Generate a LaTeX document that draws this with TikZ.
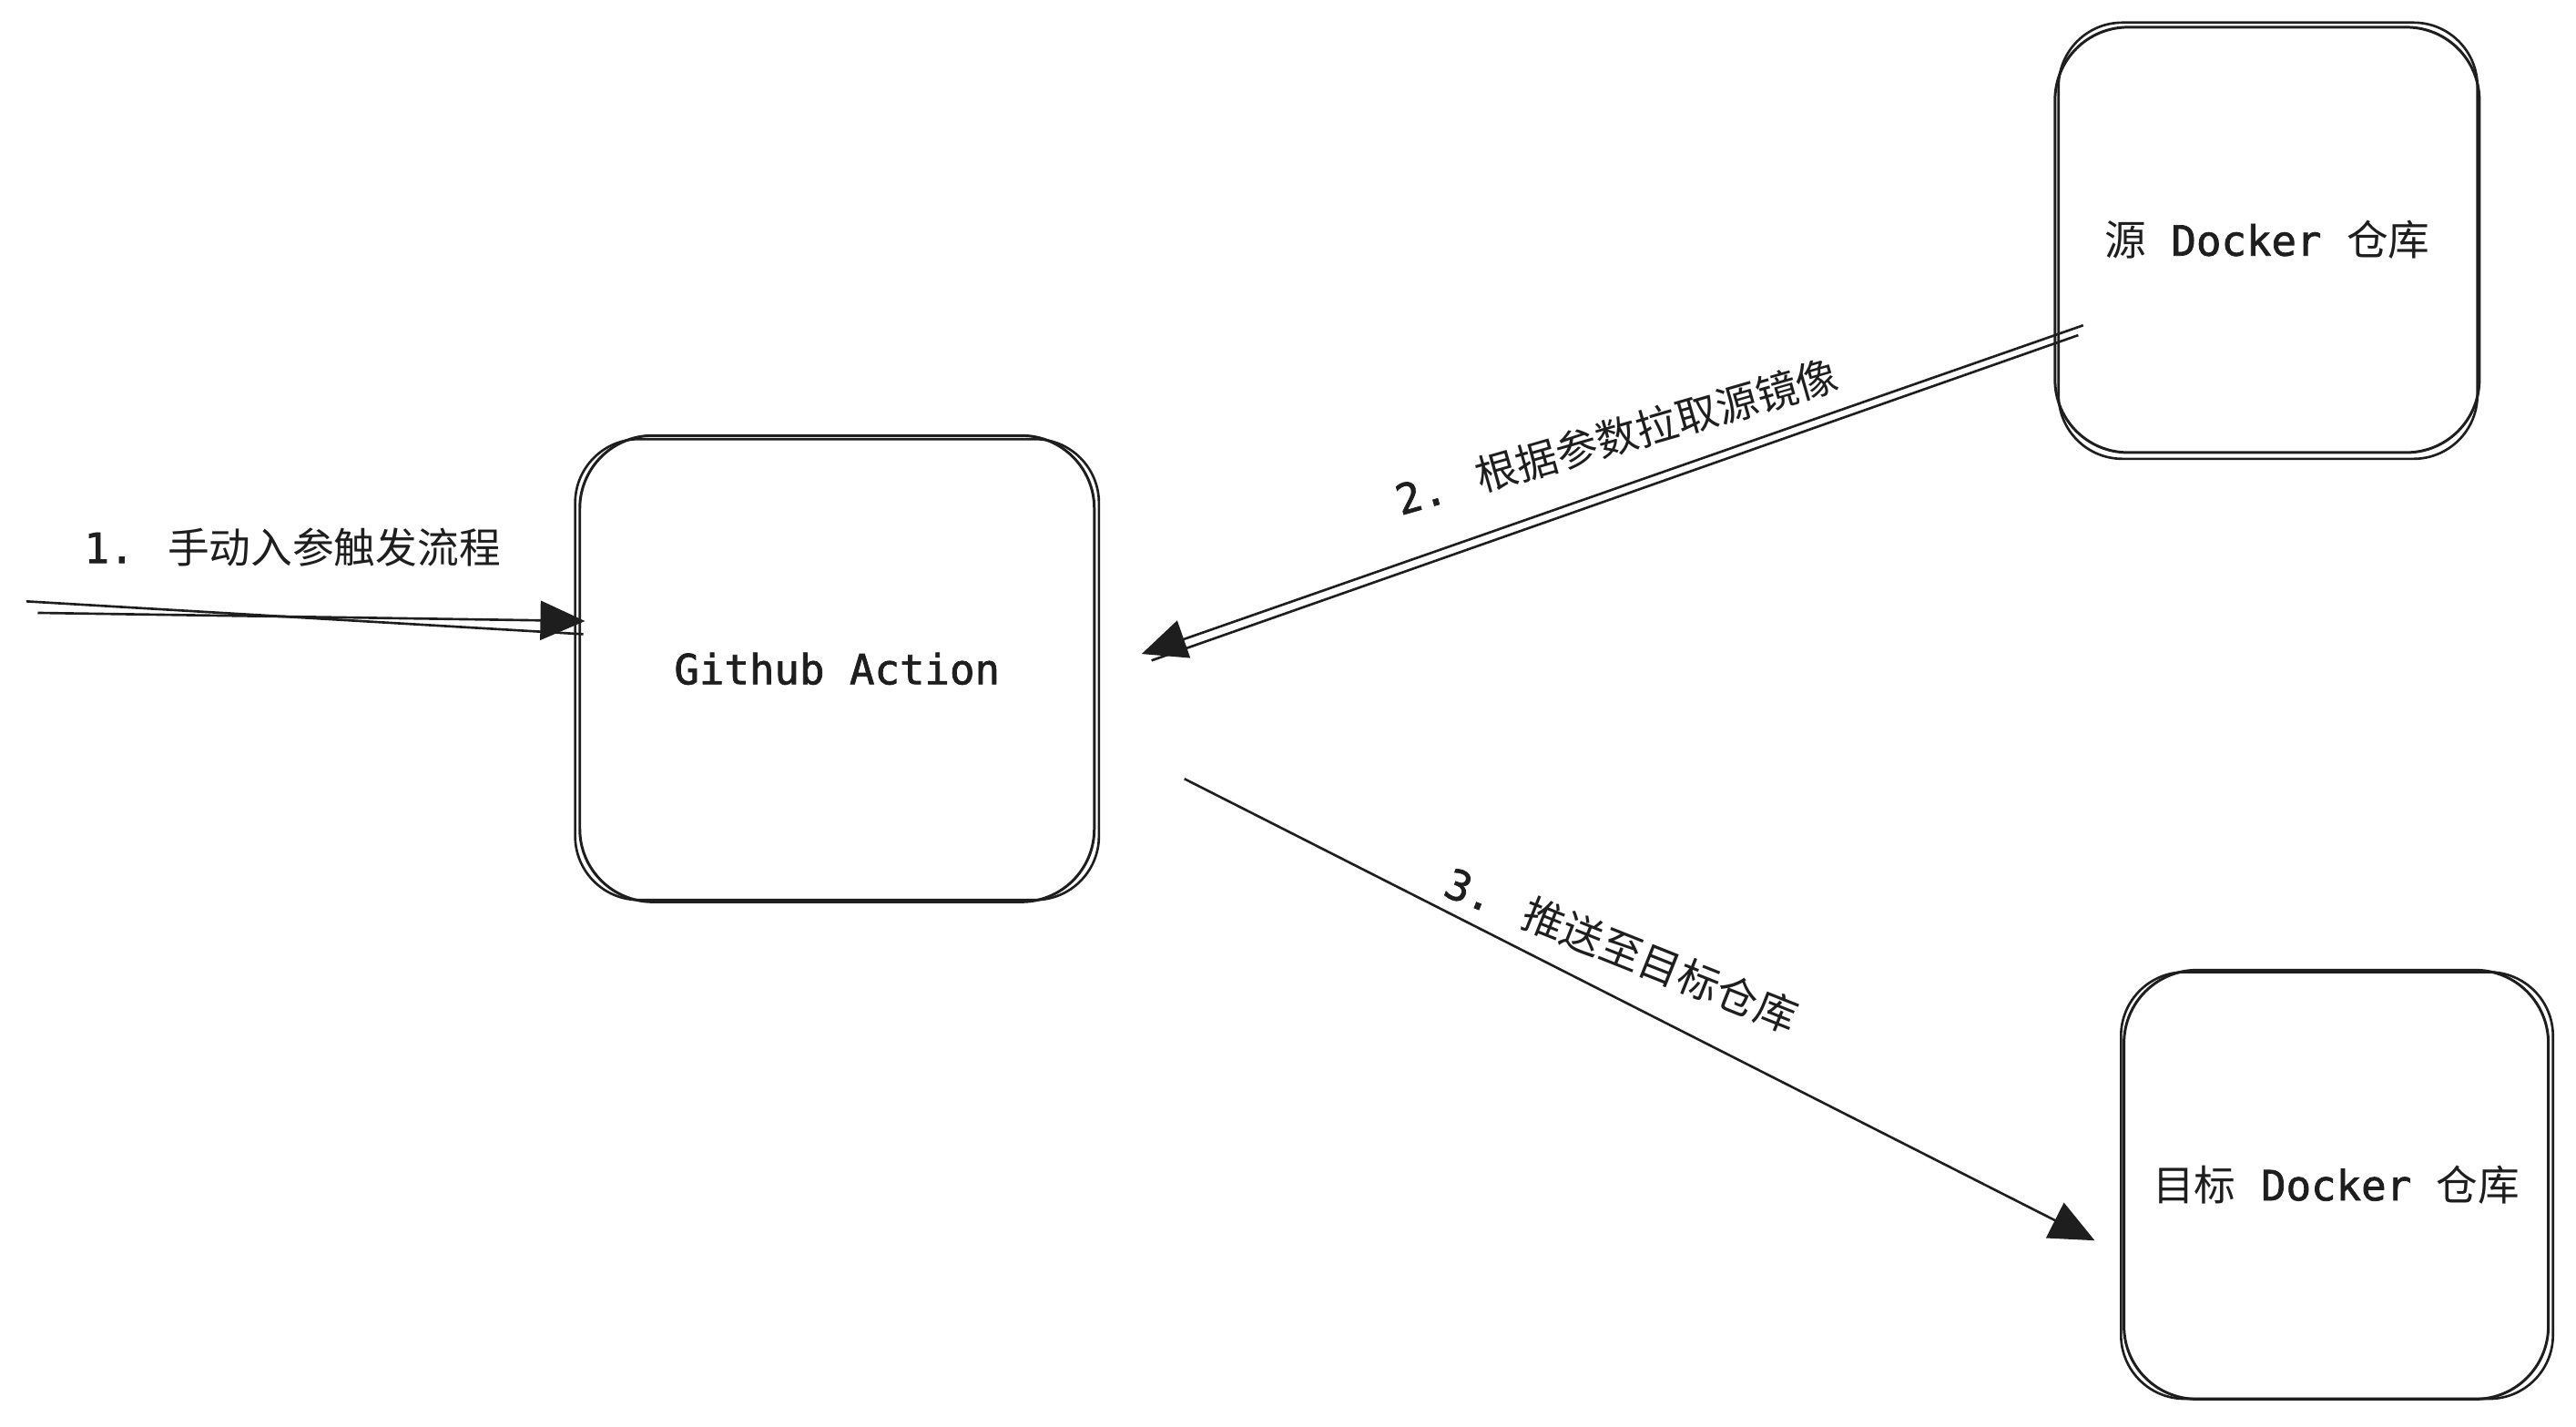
\documentclass[tikz,border=0pt]{standalone}
\usepackage{fontspec}
\usetikzlibrary{arrows.meta,calc,positioning}
\newfontfamily\sketchmono{DejaVu Sans Mono}[RawFeature={embolden=1.6}]
\newfontfamily\cjk{Noto Sans CJK SC}
\newcommand\sketchfont{\sketchmono\fontsize{13pt}{15pt}\selectfont}
\newcommand\zh[1]{{\cjk #1}}
\definecolor{ink}{HTML}{1E1E1E}

\begin{document}
\begin{tikzpicture}[x=0.18042mm, y=-0.18042mm, line width=0.75pt, color=ink,
        sketchBox/.style={draw, line width=0.85pt, rounded corners=8mm, inner sep=0pt, font=\sketchfont},
        tipArrow/.style={-{Triangle[length=4.9mm,width=4.3mm]}},
        edgeLabel/.style={font=\sketchfont, inner sep=0pt}]
        \useasboundingbox (0,0) rectangle (1568,868);
        \node[sketchBox, minimum width=56.5mm, minimum height=51.2mm] (gha) at (509.5,407) {Github Action};
        \node[sketchBox, minimum width=46.6mm, minimum height=46.7mm] (src) at (1380,146) {\zh{源} Docker \zh{仓库}};
        \node[sketchBox, minimum width=46.6mm, minimum height=47.1mm] (dst) at (1422,721) {\zh{目标} Docker \zh{仓库}};
        \draw[rounded corners=7mm] ($(gha.north west)+(-2,3)$) rectangle ($(gha.south east)+(2,-2)$);
        \draw[rounded corners=7mm] ($(src.north west)+(3,-2)$) rectangle ($(src.south east)+(-2,3)$);
        \draw[rounded corners=7mm] ($(dst.north west)+(-1,2)$) rectangle ($(dst.south east)+(2,-1)$);
        \coordinate (in) at (23,373);
        \draw[tipArrow] (in) -- ($(gha.west)+(4,-29)$);
        \draw ($(in)+(-7,-7)$) -- ($(gha.west)+(3,-21)$);
        \draw[tipArrow] ($(src.west)+(18,52)$) -- ($(gha.east)+(28,-9)$);
        \draw ($(src.west)+(15,58)$) -- ($(gha.east)+(34,-5)$);
        \draw[tipArrow] ($(gha.east)+(54,67)$) -- ($(dst.west)+(-17,34)$);
        \node[edgeLabel] (l1) at (178,333) {1. \zh{手动入参触发流程}};
        \node[edgeLabel, rotate=16] (l2) at (984,266) {2. \zh{根据参数拉取源镜像}};
        \node[edgeLabel, rotate=-21.7] (l3) at (987,578) {3. \zh{推送至目标仓库}};
\end{tikzpicture}
\end{document}
